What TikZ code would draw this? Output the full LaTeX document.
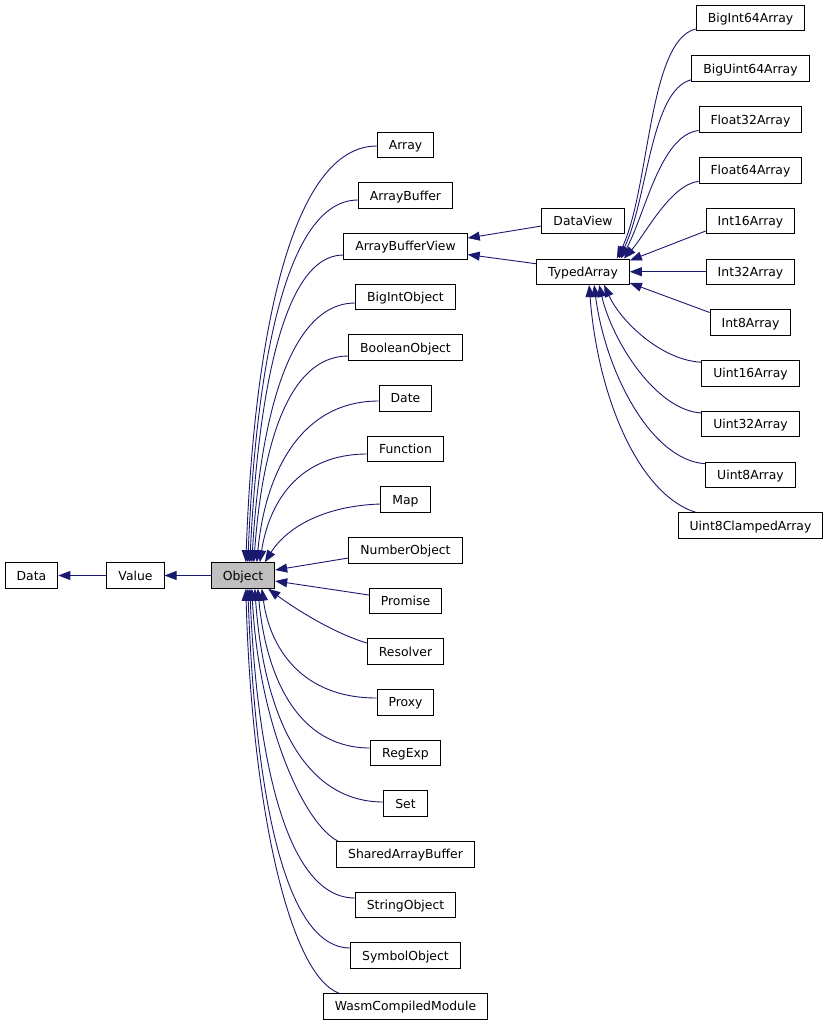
\documentclass[tikz,border=0pt]{standalone}
\usepackage{fontspec}
\setmainfont{DejaVu Sans}
\usetikzlibrary{arrows.meta}
\definecolor{edgeblue}{HTML}{191970}
\definecolor{objgray}{HTML}{BFBFBF}
\begin{document}
\begin{tikzpicture}[x=1pt,y=-1pt,
  cls/.style={draw=black, line width=1pt, fill=white, inner xsep=11.5pt, inner ysep=0pt,
    minimum height=25.5pt, text height=9pt, text depth=0pt, font=\fontsize{12.4}{14}\selectfont},
  inh/.style={draw=edgeblue, line width=0.9pt, {Triangle[length=12pt,width=9pt,fill=edgeblue]}-},
]
\useasboundingbox[fill=white] (0,0) rectangle (829,1025);

% base chain
\node[cls] (Data) at (31.5,575.5) {Data};
\node[cls] (Value) at (135.5,575.5) {Value};
\node[cls,fill=objgray] (Object) at (243,575.5) {Object};

% column 2
\node[cls] (Array) at (405.5,145) {Array};
\node[cls] (ArrayBuffer) at (405.5,195.7) {ArrayBuffer};
\node[cls] (ABV) at (405.5,246.3) {ArrayBufferView};
\node[cls] (BigIntObject) at (405.5,297) {BigIntObject};
\node[cls] (BooleanObject) at (405.5,347.7) {BooleanObject};
\node[cls] (Date) at (405.5,398.4) {Date};
\node[cls] (Function) at (405.5,449) {Function};
\node[cls] (Map) at (405.5,499.7) {Map};
\node[cls] (NumberObject) at (405.5,550.4) {NumberObject};
\node[cls] (Promise) at (405.5,601) {Promise};
\node[cls] (Resolver) at (405.5,651.7) {Resolver};
\node[cls] (Proxy) at (405.5,702.4) {Proxy};
\node[cls] (RegExp) at (405.5,753) {RegExp};
\node[cls] (Set) at (405.5,803.7) {Set};
\node[cls] (SAB) at (405.5,854.4) {SharedArrayBuffer};
\node[cls] (StringObject) at (405.5,905) {StringObject};
\node[cls] (SymbolObject) at (405.5,955.7) {SymbolObject};
\node[cls] (Wasm) at (405.5,1006.4) {WasmCompiledModule};

% column 3
\node[cls] (DataView) at (583,221) {DataView};
\node[cls] (TypedArray) at (583,271.75) {TypedArray};

% column 4
\node[cls] (BigInt64) at (750.5,18) {BigInt64Array};
\node[cls] (BigUint64) at (750.5,68.75) {BigUint64Array};
\node[cls] (Float32) at (750.5,119.5) {Float32Array};
\node[cls] (Float64) at (750.5,170.25) {Float64Array};
\node[cls] (Int16) at (750.5,221) {Int16Array};
\node[cls] (Int32) at (750.5,271.75) {Int32Array};
\node[cls] (Int8) at (750.5,322.5) {Int8Array};
\node[cls] (Uint16) at (750.5,373.25) {Uint16Array};
\node[cls] (Uint32) at (750.5,424) {Uint32Array};
\node[cls] (Uint8) at (750.5,474.75) {Uint8Array};
\node[cls] (Uint8C) at (750.5,525.5) {Uint8ClampedArray};

% base chain edges
\draw[inh] (Data.east) -- (Value.west);
\draw[inh] (Value.east) -- (Object.west);

% Object children (upper)
\draw[inh] ([xshift=35pt]Object.north west) .. controls (254,334) and (292,146) .. ([yshift=-1pt]Array.west);
\draw[inh] ([xshift=37pt]Object.north west) .. controls (256,363) and (286.5,200) .. ([yshift=-4.3pt]ArrayBuffer.west);
\draw[inh] ([xshift=39pt]Object.north west) .. controls (258,394) and (283,255) .. ([yshift=-8.7pt]ABV.west);
\draw[inh] ([xshift=41pt]Object.north west) .. controls (260,420) and (288.5,303) .. ([yshift=-6pt]BigIntObject.west);
\draw[inh] ([xshift=43pt]Object.north west) .. controls (262,449) and (287,356) .. ([yshift=-8.3pt]BooleanObject.west);
\draw[inh] ([xshift=46pt]Object.north west) .. controls (265,474) and (300,401) .. ([yshift=-2.6pt]Date.west);
\draw[inh] ([xshift=49pt]Object.north west) .. controls (269,503) and (298,454) .. ([yshift=-5pt]Function.west);
\draw[inh] ([xshift=54pt]Object.north west) .. controls (285,530) and (320,506) .. ([yshift=-4.3pt]Map.west);
\draw[inh] ([yshift=5.5pt]Object.east) -- ([yshift=-7.6pt]NumberObject.west);
\draw[inh] ([yshift=-5.5pt]Object.east) -- ([yshift=6pt]Promise.west);
\draw[inh] ([xshift=-7pt]Object.south east) .. controls (290,605) and (330,632) .. ([yshift=8.7pt]Resolver.west);

% Object children (lower)
\draw[inh] ([xshift=51pt]Object.south west) .. controls (270,648.5) and (302,698) .. ([yshift=4.4pt]Proxy.west);
\draw[inh] ([xshift=47pt]Object.south west) .. controls (266,676) and (297,748) .. ([yshift=5pt]RegExp.west);
\draw[inh] ([xshift=44pt]Object.south west) .. controls (263,706) and (299,802) .. ([yshift=1.7pt]Set.west);
\draw[inh] ([xshift=41pt]Object.south west) .. controls (259,727) and (305,825) .. ([xshift=2pt]SAB.north west);
\draw[inh] ([xshift=39pt]Object.south west) .. controls (257,761) and (287,898) .. ([yshift=7pt]StringObject.west);
\draw[inh] ([xshift=37pt]Object.south west) .. controls (255,788) and (283,948) .. ([yshift=7.7pt]SymbolObject.west);
\draw[inh] ([xshift=35pt]Object.south west) .. controls (252,810) and (290,975) .. ([xshift=16pt]Wasm.north west);

% ArrayBufferView children
\draw[inh] ([yshift=-5pt]ABV.north east) -- ([yshift=-5pt]DataView.west);
\draw[inh] ([yshift=5pt]ABV.south east) -- ([yshift=8pt]TypedArray.west);

% TypedArray children (upper)
\draw[inh] ([xshift=-13pt]TypedArray.north east) .. controls (650,190) and (648,40) .. ([yshift=-11pt]BigInt64.west);
\draw[inh] ([xshift=-11pt]TypedArray.north east) .. controls (648,200) and (650,90) .. ([yshift=-11pt]BigUint64.west);
\draw[inh] ([xshift=-9pt]TypedArray.north east) .. controls (645,215) and (660,135) .. ([yshift=-11pt]Float32.west);
\draw[inh] ([xshift=-6pt]TypedArray.north east) .. controls (645,235) and (670,185) .. ([yshift=-11pt]Float64.west);
\draw[inh] ([yshift=-2pt]TypedArray.north east) -- ([yshift=-10pt]Int16.west);
\draw[inh] (TypedArray.east) -- (Int32.west);
\draw[inh] ([yshift=2pt]TypedArray.south east) -- ([yshift=10pt]Int8.west);

% TypedArray children (lower)
\draw[inh] ([xshift=68pt]TypedArray.south west) .. controls (620,320) and (660,360) .. ([yshift=11pt]Uint16.west);
\draw[inh] ([xshift=63pt]TypedArray.south west) .. controls (612,340) and (655,410) .. ([yshift=11pt]Uint32.west);
\draw[inh] ([xshift=58pt]TypedArray.south west) .. controls (605,370) and (650,460) .. ([yshift=11pt]Uint8.west);
\draw[inh] ([xshift=53pt]TypedArray.south west) .. controls (598,400) and (640,495) .. ([xshift=18pt]Uint8C.north west);
\end{tikzpicture}
\end{document}
